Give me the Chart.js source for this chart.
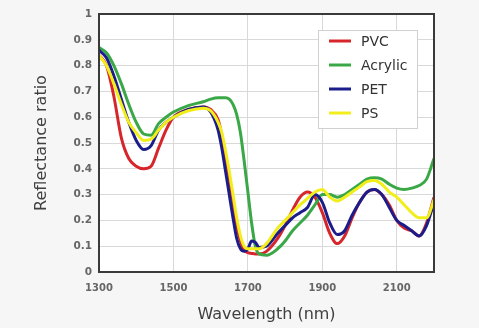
<!DOCTYPE html>
<html>
<head>
<meta charset="utf-8">
<script src="https://cdn.jsdelivr.net/npm/chart.js@4.4.1/dist/chart.umd.min.js"></script>
<style>
  html, body { margin: 0; padding: 0; background: #f6f6f6; }
  #wrap { width: 479px; height: 328px; }
</style>
</head>
<body>
<div id="wrap"><canvas id="grafico" width="479" height="328"></canvas></div>
<script>
// longitudes de onda (nm)
const wavelengths = [1300, 1320, 1340, 1360, 1380, 1400, 1420, 1440, 1460, 1480, 1500, 1540, 1580, 1600, 1620,
  1630, 1640, 1650, 1660, 1670, 1680, 1690, 1700, 1710, 1720, 1730, 1750, 1780, 1800, 1820, 1840, 1860, 1880,
  1900, 1920, 1940, 1960, 1980, 2000, 2020, 2040, 2060, 2080, 2100, 2120, 2140, 2160, 2180, 2200];

const pvc = [0.84, 0.80, 0.68, 0.52, 0.44, 0.41, 0.40, 0.41, 0.48, 0.55, 0.60, 0.63, 0.64, 0.63, 0.59,
  0.53, 0.45, 0.36, 0.27, 0.18, 0.12, 0.085, 0.075, 0.072, 0.07, 0.07, 0.08, 0.13, 0.18, 0.24, 0.29, 0.31, 0.29,
  0.23, 0.15, 0.11, 0.14, 0.21, 0.27, 0.31, 0.32, 0.30, 0.26, 0.20, 0.17, 0.16, 0.14, 0.19, 0.29];

const acrylic = [0.87, 0.85, 0.80, 0.73, 0.65, 0.58, 0.535, 0.53, 0.575, 0.60, 0.62, 0.645, 0.66, 0.67, 0.675,
  0.675, 0.675, 0.67, 0.65, 0.61, 0.54, 0.43, 0.31, 0.19, 0.10, 0.07, 0.065, 0.09, 0.12, 0.16, 0.19, 0.22, 0.26,
  0.30, 0.30, 0.29, 0.30, 0.32, 0.34, 0.36, 0.365, 0.36, 0.34, 0.325, 0.32, 0.325, 0.335, 0.36, 0.44];

const pet = [0.86, 0.83, 0.76, 0.67, 0.58, 0.51, 0.475, 0.49, 0.55, 0.58, 0.60, 0.63, 0.64, 0.62, 0.55,
  0.48, 0.39, 0.30, 0.21, 0.13, 0.09, 0.08, 0.09, 0.12, 0.115, 0.095, 0.10, 0.15, 0.18, 0.21, 0.23, 0.25, 0.30,
  0.27, 0.19, 0.145, 0.16, 0.22, 0.27, 0.31, 0.32, 0.30, 0.25, 0.20, 0.18, 0.16, 0.14, 0.18, 0.27];

const ps = [0.84, 0.80, 0.73, 0.65, 0.58, 0.54, 0.51, 0.515, 0.55, 0.58, 0.60, 0.625, 0.635, 0.625, 0.58,
  0.54, 0.47, 0.39, 0.30, 0.21, 0.14, 0.10, 0.09, 0.09, 0.09, 0.09, 0.11, 0.17, 0.20, 0.23, 0.26, 0.285, 0.31,
  0.32, 0.29, 0.275, 0.29, 0.31, 0.33, 0.35, 0.355, 0.34, 0.31, 0.29, 0.26, 0.23, 0.21, 0.21, 0.28];

const seriesNames = ['PVC', 'Acrylic', 'PET', 'PS'];
const seriesColors = ['#d7262b', '#3aa847', '#1b1d8a', '#f2ee1c'];
const xTicks = [1300, 1500, 1700, 1900, 2100];

const FONT = "'DejaVu Sans', Verdana, sans-serif";

const toPoints = (valores) => wavelengths.map((w, i) => ({ x: w, y: valores[i] }));

// fondo gris, área blanca, marco y leyenda dibujados a mano
const marcoPlugin = {
  id: 'marco',
  beforeDraw(chart) {
    const { ctx, chartArea: a } = chart;
    ctx.save();
    ctx.fillStyle = '#f6f6f6';
    ctx.fillRect(0, 0, chart.width, chart.height);
    ctx.fillStyle = '#ffffff';
    ctx.fillRect(a.left, a.top, a.right - a.left, a.bottom - a.top);
    ctx.restore();
  },
  afterDraw(chart) {
    const { ctx, chartArea: a } = chart;
    ctx.save();
    ctx.strokeStyle = '#3a3a3a';
    ctx.lineWidth = 2;
    ctx.strokeRect(a.left, a.top, a.right - a.left, a.bottom - a.top);

    // leyenda
    const bx = 318, by = 30, bw = 99, bh = 98;
    ctx.fillStyle = '#ffffff';
    ctx.fillRect(bx, by, bw, bh);
    ctx.strokeStyle = '#d0d0d0';
    ctx.lineWidth = 1;
    ctx.strokeRect(bx + 0.5, by + 0.5, bw, bh);
    ctx.font = '14px ' + FONT;
    ctx.textBaseline = 'middle';
    seriesNames.forEach((nombre, i) => {
      const y = by + 11 + i * 24;
      ctx.strokeStyle = seriesColors[i];
      ctx.lineWidth = 3;
      ctx.beginPath();
      ctx.moveTo(329, y);
      ctx.lineTo(351, y);
      ctx.stroke();
      ctx.fillStyle = '#333333';
      ctx.fillText(nombre, 361, y + 1);
    });
    ctx.restore();
  }
};

const valores = [pvc, acrylic, pet, ps];

new Chart(document.getElementById('grafico').getContext('2d'), {
  type: 'line',
  data: {
    datasets: seriesNames.map((nombre, i) => ({
      label: nombre,
      data: toPoints(valores[i]),
      borderColor: seriesColors[i],
      borderWidth: 3,
      pointRadius: 0,
      cubicInterpolationMode: 'monotone',
      fill: false,
      order: 4 - i
    }))
  },
  options: {
    responsive: false,
    animation: false,
    layout: { padding: { left: 0, right: 45, top: 14, bottom: 0 } },
    plugins: {
      legend: { display: false },
      tooltip: { enabled: false }
    },
    scales: {
      x: {
        type: 'linear',
        min: 1300,
        max: 2200,
        afterBuildTicks: (scale) => { scale.ticks = xTicks.map(v => ({ value: v })); },
        afterFit: (scale) => { scale.height = 56; },
        border: { display: false },
        grid: { color: '#d9d9d9', lineWidth: 1, drawTicks: false },
        ticks: {
          padding: 10,
          maxRotation: 0,
          color: '#666666',
          font: { family: FONT, size: 10, weight: 'bold' },
          callback: (v) => String(v)
        },
        title: {
          display: true,
          text: 'Wavelength (nm)',
          color: '#404040',
          font: { family: FONT, size: 16 },
          padding: { top: 0, bottom: 4 }
        }
      },
      y: {
        min: 0,
        max: 1,
        afterFit: (scale) => { scale.width = 99; },
        border: { display: false },
        grid: { color: '#d9d9d9', lineWidth: 1, drawTicks: false },
        ticks: {
          stepSize: 0.1,
          padding: 7,
          color: '#666666',
          font: { family: FONT, size: 10.5, weight: 'bold' },
          callback: (v) => String(Number(v.toFixed(1)))
        },
        title: {
          display: true,
          text: 'Reflectance ratio',
          color: '#404040',
          font: { family: FONT, size: 16 },
          padding: { top: 32, bottom: 0 }
        }
      }
    }
  },
  plugins: [marcoPlugin]
});
</script>
</body>
</html>
